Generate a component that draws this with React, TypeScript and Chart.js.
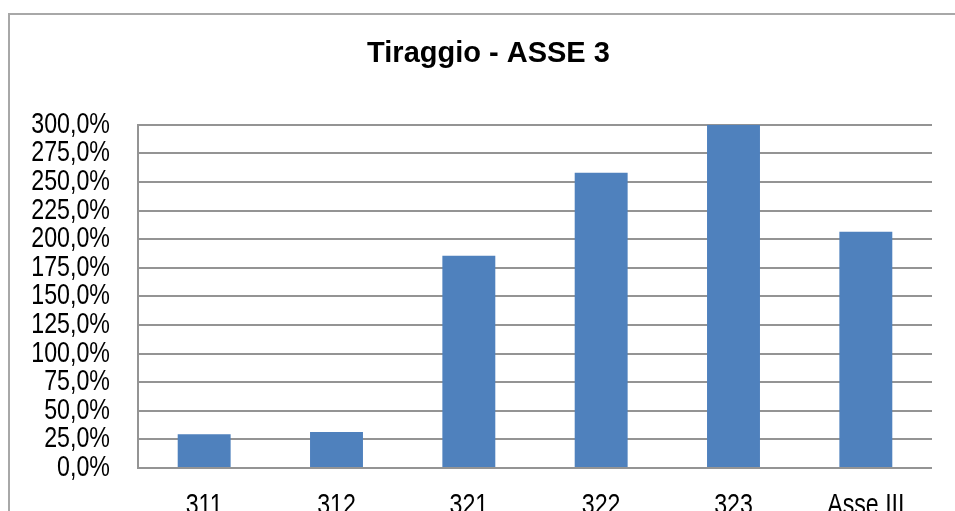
import React, { useEffect, useRef } from "react";
import { Chart, registerables } from "chart.js";

Chart.register(...registerables);

const categories = ["311", "312", "321", "322", "323", "Asse III"];
const values = [29.5, 31.5, 185.5, 258.0, 300.0, 206.5];
const yMin = 0;
const yMax = 300;
const yStep = 25;
const titleText = "Tiraggio - ASSE 3";

const GRID = "#949494";
const BAR = "#4F81BD";
const SANS = "'Liberation Sans', Arial, sans-serif";
const NARROW_RATIO = 0.8;

// Draw axis labels horizontally condensed (Arial Narrow look) around each label's anchor.
const narrowLabels = {
  id: "narrowLabels",
  afterLayout(chart: any) {
    ["x", "y"].forEach((id) => {
      const scale = chart.scales[id];
      if (!scale || scale.__narrow) return;
      scale.__narrow = true;
      const orig = scale.drawLabels.bind(scale);
      scale.drawLabels = (area: any) => {
        const ctx = chart.ctx;
        const origRotate = ctx.rotate;
        ctx.rotate = function (a: number) {
          origRotate.call(this, a);
          this.scale(NARROW_RATIO, 1);
        };
        try {
          orig(area);
        } finally {
          ctx.rotate = origRotate;
        }
      };
    });
  },
};

export default function App() {
  const ref = useRef<HTMLCanvasElement | null>(null);

  useEffect(() => {
    if (!ref.current) return;
    const chart = new Chart(ref.current, {
      type: "bar",
      data: {
        labels: categories,
        datasets: [
          {
            data: values,
            backgroundColor: BAR,
            borderWidth: 0,
            barPercentage: 0.4,
            categoryPercentage: 1,
            yAxisID: "y",
          },
        ],
      },
      plugins: [narrowLabels],
      options: {
        responsive: false,
        animation: false,
        layout: { padding: { left: 0, right: 33, top: 0, bottom: 27 } },
        plugins: {
          legend: { display: false },
          tooltip: { enabled: false },
          title: {
            display: true,
            text: titleText,
            color: "#000",
            font: { family: SANS, size: 29, weight: "bold" },
            padding: { top: 22, bottom: 53 },
          },
        },
        scales: {
          x: {
            grid: { display: false, drawTicks: false },
            border: { display: false },
            ticks: {
              color: "#000",
              font: { family: SANS, size: 29 },
              padding: 21,
              maxRotation: 0,
              autoSkip: false,
            },
            afterFit: (s: any) => {
              s.height = 60;
            },
          },
          y: {
            min: yMin,
            max: yMax,
            grid: { color: GRID, lineWidth: 2, drawTicks: false },
            border: { display: true, color: GRID, width: 2 },
            ticks: {
              stepSize: yStep,
              autoSkip: false,
              color: "#000",
              font: { family: SANS, size: 29, lineHeight: 1 },
              padding: 28,
              callback: (v: any) => Number(v).toFixed(1).replace(".", ",") + "%",
            },
            afterFit: (s: any) => {
              s.width = 128;
            },
          },
          yPad: {
            type: "linear",
            position: "right",
            display: true,
            grid: { display: false, drawTicks: false },
            border: { display: false },
            ticks: { display: false },
            afterFit: (s: any) => {
              s.width = 35;
            },
          },
        },
      },
    });
    return () => chart.destroy();
  }, []);

  return (
    <div
      style={{
        position: "fixed",
        left: 0,
        top: 0,
        width: 955,
        height: 511,
        overflow: "hidden",
        paddingLeft: 8,
        paddingTop: 13,
        boxSizing: "border-box",
        background: "#fff",
      }}
    >
      <div
        style={{
          width: 1000,
          height: 560,
          border: "2px solid #a8a8a8",
          boxSizing: "border-box",
        }}
      >
        <canvas ref={ref} width={990} height={540} style={{ display: "block" }} />
      </div>
    </div>
  );
}
